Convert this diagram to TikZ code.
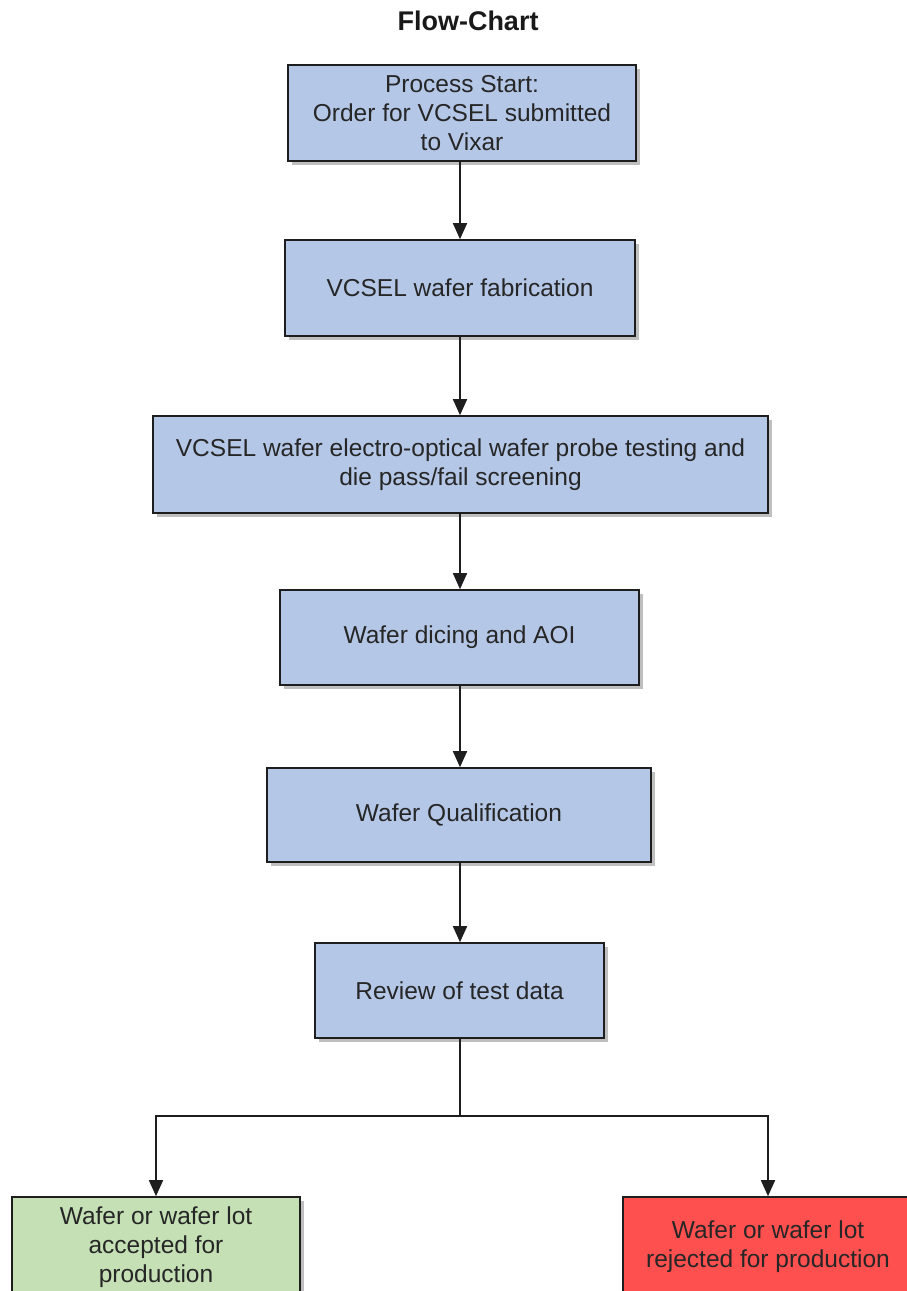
\documentclass[tikz,border=0pt]{standalone}
\usepackage{fontspec}
\setmainfont{Liberation Sans}
\usetikzlibrary{arrows.meta,shadows}
\definecolor{boxblue}{RGB}{180,199,231}
\definecolor{boxgreen}{RGB}{197,224,180}
\definecolor{boxred}{RGB}{255,80,80}
\definecolor{edge}{RGB}{30,30,30}
\tikzset{
  stepbox/.style={draw=edge, line width=1.6pt, fill=boxblue, rectangle, align=center,
    inner sep=0pt, text=black!85,
    font=\fontsize{24.5pt}{29pt}\selectfont,
    drop shadow={shadow xshift=4pt, shadow yshift=-4pt, opacity=0.25, fill=black}},
  arr/.style={draw=edge, line width=1.6pt, -{Triangle[length=16pt,width=14pt]}},
  conn/.style={draw=edge, line width=1.6pt},
}
\begin{document}
\begin{tikzpicture}[x=1pt,y=-1pt]
\useasboundingbox (0,0) rectangle (907,1291);
\clip (0,0) rectangle (907,1291);
\node[font=\bfseries\fontsize{27pt}{31pt}\selectfont, text=black!90] (title) at (468,21) {Flow-Chart};
\node[stepbox, minimum width=348pt, minimum height=96pt] (b1) at (462,113)
  {Process Start:\\Order for VCSEL submitted\\to Vixar};
\node[stepbox, minimum width=350pt, minimum height=96pt] (b2) at (460,288)
  {VCSEL wafer fabrication};
\node[stepbox, minimum width=615pt, minimum height=97pt] (b3) at (460.5,464.5)
  {VCSEL wafer electro-optical wafer probe testing and\\die pass/fail screening};
\node[stepbox, minimum width=359pt, minimum height=95pt] (b4) at (459.5,637.5)
  {Wafer dicing and AOI};
\node[stepbox, minimum width=384pt, minimum height=94pt] (b5) at (459,815)
  {Wafer Qualification};
\node[stepbox, minimum width=289pt, minimum height=95pt] (b6) at (459.5,990.5)
  {Review of test data};
\node[stepbox, fill=boxgreen, minimum width=288pt, minimum height=100pt] (g) at (156,1247)
  {Wafer or wafer lot\\accepted for\\production};
\node[stepbox, fill=boxred, minimum width=290pt, minimum height=100pt] (r) at (768,1247)
  {Wafer or wafer lot\\rejected for production};
\draw[arr] (b1.south -| b2.north) -- (b2.north);
\draw[arr] (b2.south) -- (b2.south |- b3.north);
\draw[arr] (b3.south -| b2.south) -- (b2.south |- b4.north);
\draw[arr] (b4.south -| b2.south) -- (b2.south |- b5.north);
\draw[arr] (b5.south -| b2.south) -- (b2.south |- b6.north);
\coordinate (j) at (460,1116);
\draw[conn] (b6.south -| j) -- (j);
\draw[arr] (j) -| (g.north);
\draw[arr] (j) -| (r.north);
\end{tikzpicture}
\end{document}
